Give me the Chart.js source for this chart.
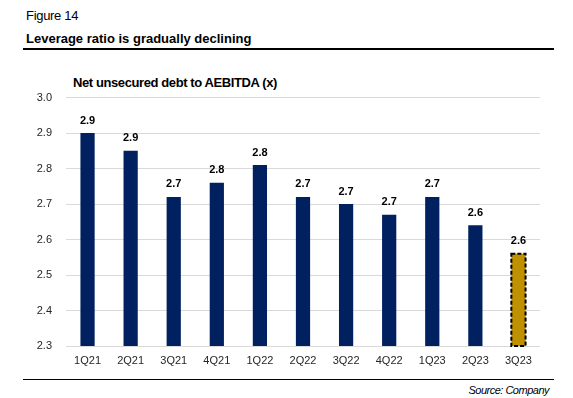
<!DOCTYPE html>
<html>
<head>
<meta charset="utf-8">
<script src="https://cdn.jsdelivr.net/npm/chart.js@4.4.1/dist/chart.umd.min.js"></script>
<style>
  body { margin: 0; background: #fff; }
  #wrap { position: relative; width: 573px; height: 398px; overflow: hidden;
          font-family: 'Liberation Sans', Arial, sans-serif; color: #000; }
  .txt { position: absolute; white-space: nowrap; }
  #fig { left: 26px; top: 8px; font-size: 13px; letter-spacing: -0.3px; }
  #head { left: 26px; top: 31px; font-size: 13px; font-weight: bold; letter-spacing: 0px; }
  #line1 { position: absolute; left: 23px; top: 48px; width: 531px; height: 2px; background: #000; }
  #ctitle { left: 73px; top: 75px; font-size: 13px; font-weight: bold; letter-spacing: -0.4px; }
  #line2 { position: absolute; left: 23px; top: 379px; width: 531px; height: 1px; background: #000; }
  #src { right: 24px; top: 384px; font-size: 11px; font-style: italic; letter-spacing: -0.5px; }
  #box { position: absolute; left: 0; top: 77px; width: 573px; height: 296px; }
</style>
</head>
<body>
<div id="wrap">
  <div class="txt" id="fig">Figure 14</div>
  <div class="txt" id="head">Leverage ratio is gradually declining</div>
  <div id="line1"></div>
  <div class="txt" id="ctitle">Net unsecured debt to AEBITDA (x)</div>
  <div id="box"><canvas id="barChart"></canvas></div>
  <div id="line2"></div>
  <div class="txt" id="src">Source: Company</div>
</div>
<script>
const quarters = ['1Q21', '2Q21', '3Q21', '4Q21', '1Q22', '2Q22', '3Q22', '4Q22', '1Q23', '2Q23', '3Q23'];
const leverage = [2.90, 2.85, 2.72, 2.76, 2.81, 2.72, 2.70, 2.67, 2.72, 2.64, 2.56];
const yTicks = [2.3, 2.4, 2.5, 2.6, 2.7, 2.8, 2.9, 3.0];

const NAVY = '#002060';
const GOLD = '#BF9000';
const font = "'Liberation Sans', Arial, sans-serif";
const lastIdx = quarters.length - 1;

// value labels + dashed outline on the last bar
const barLabels = {
    id: 'barLabels',
    afterDatasetsDraw(chart) {
        const ctx = chart.ctx;
        const meta = chart.getDatasetMeta(0);
        ctx.save();
        ctx.font = 'bold 11px ' + font;
        ctx.fillStyle = '#000';
        ctx.textAlign = 'center';
        ctx.textBaseline = 'bottom';
        meta.data.forEach(function(bar, i) {
            ctx.fillText(leverage[i].toFixed(1), bar.x, bar.y - 7);
        });
        const b = meta.data[lastIdx];
        const half = b.width / 2;
        const bottom = Math.min(b.base, chart.chartArea.bottom);
        ctx.strokeStyle = '#000';
        ctx.lineWidth = 2;
        ctx.setLineDash([4, 2]);
        ctx.strokeRect(b.x - half, b.y, b.width, bottom - b.y);
        ctx.restore();
    }
};

const ctx = document.getElementById('barChart').getContext('2d');
const chart = new Chart(ctx, {
    type: 'bar',
    data: {
        labels: quarters,
        datasets: [{
            data: leverage,
            backgroundColor: quarters.map((q, i) => i === lastIdx ? GOLD : NAVY),
            borderWidth: 0,
            categoryPercentage: 1,
            barPercentage: 0.33
        }]
    },
    options: {
        responsive: true,
        maintainAspectRatio: false,
        animation: false,
        layout: { padding: { left: 26, right: 33, top: 9, bottom: 0 } },
        plugins: {
            legend: { display: false },
            tooltip: { enabled: false }
        },
        scales: {
            x: {
                grid: { display: false, drawTicks: false },
                border: { display: false },
                ticks: { color: '#262626', font: { family: font, size: 11 }, padding: 8, maxRotation: 0 },
                afterFit: function(scale) { scale.height = 27; }
            },
            y: {
                min: 2.3,
                max: 3.0,
                afterBuildTicks: function(scale) { scale.ticks = yTicks.map(v => ({ value: v })); },
                grid: { color: '#D9D9D9', lineWidth: 1, drawTicks: false },
                border: { display: false },
                ticks: {
                    color: '#262626',
                    font: { family: font, size: 11 },
                    padding: 14,
                    callback: function(value) { return value.toFixed(1); }
                },
                afterFit: function(scale) { scale.width = 40; }
            }
        }
    },
    plugins: [barLabels]
});
</script>
</body>
</html>
